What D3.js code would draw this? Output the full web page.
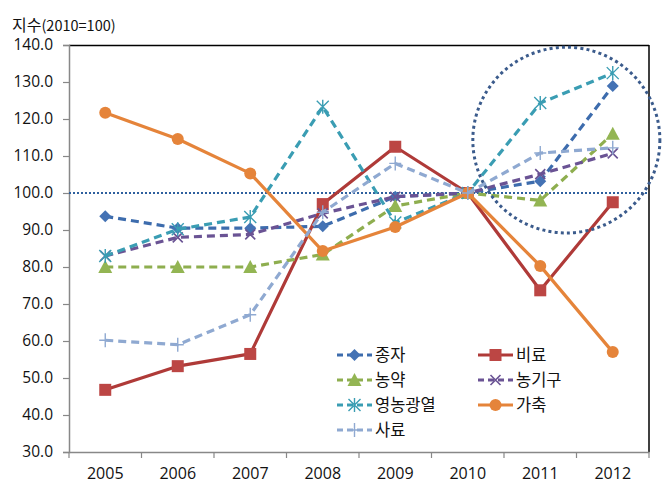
<!DOCTYPE html>
<html><head><meta charset="utf-8">
<script src="https://cdn.jsdelivr.net/npm/d3@7"></script>
<style>
html,body{margin:0;padding:0;background:#fff;}
svg{display:block;font-family:"Noto Sans CJK KR","Noto Sans",sans-serif;}
</style></head>
<body><svg id="chart" width="670" height="486"></svg>
<script>
const years = ["2005","2006","2007","2008","2009","2010","2011","2012"];
const yTicks = [30,40,50,60,70,80,90,100,110,120,130,140];
const seedVals = [93.7,90.5,90.5,91.0,99.0,100,103.2,128.9];
const fertVals = [46.8,53.2,56.5,97.0,112.5,100,73.7,97.5];
const pestVals = [80.0,80.0,80.0,83.4,96.5,100,98.0,116.0];
const machVals = [83.0,88.0,88.8,94.5,99.0,100,105.1,110.7];
const heatVals = [83.0,90.2,93.5,123.3,92.0,100,124.3,132.4];
const liveVals = [121.7,114.6,105.3,84.3,90.8,100,80.3,57.0];
const feedVals = [60.2,59.0,67.1,94.8,108.0,100,110.8,112.2];
const seriesNames = ["종자","비료","농약","농기구","영농광열","가축","사료"];
const refValue = 100;
// highlight ellipse (center in category/value space, radii in value units)
const ellipseCenter = {year:"2011", offset:0.86, value:114.3};
const ellipseRadii = {bands:1.29, value:25.1};

const series = [
  {name:seriesNames[0], vals:seedVals, line:"#3D6CAD", fill:"#4472B4", dash:"8,5", marker:"diamond"},
  {name:seriesNames[1], vals:fertVals, line:"#AF3A38", fill:"#BC4644", dash:null, marker:"square"},
  {name:seriesNames[2], vals:pestVals, line:"#8EAE4F", fill:"#93B553", dash:"8,5", marker:"triangle"},
  {name:seriesNames[3], vals:machVals, line:"#6A5394", fill:"#6A5394", dash:"8,5", marker:"x"},
  {name:seriesNames[4], vals:heatVals, line:"#3A9DB3", fill:"#3A9DB3", dash:"8,5", marker:"star"},
  {name:seriesNames[5], vals:liveVals, line:"#E5843A", fill:"#E5843A", dash:null, marker:"circle"},
  {name:seriesNames[6], vals:feedVals, line:"#8FA9D1", fill:"#8FA9D1", dash:"8,5", marker:"plus"}
];

const svg = d3.select("#chart");
const L=69, R=649, T=45, B=452;
const x = d3.scaleBand().domain(years).range([L,R]);
const y = d3.scaleLinear().domain([30,140]).range([B,T]);
const cx = d => x(d)+x.bandwidth()/2;

// Title
const title = svg.append("text").attr("x",12).attr("y",31).attr("fill","#111");
title.append("tspan").attr("font-size","16px").text("지수");
title.append("tspan").attr("font-size","14.5px").text("(2010=100)");

// Frame top & right
svg.append("line").attr("x1",L).attr("x2",R).attr("y1",T+0.5).attr("y2",T+0.5).attr("stroke","#000").attr("stroke-width",1.5);
svg.append("line").attr("x1",R).attr("x2",R).attr("y1",T).attr("y2",B).attr("stroke","#000").attr("stroke-width",1.5);

// Y axis
const yAxis = svg.append("g").attr("transform",`translate(${L},0)`)
  .call(d3.axisLeft(y).tickValues(yTicks).tickFormat(d3.format(".1f")).tickSize(6).tickPadding(10));
yAxis.select(".domain").attr("stroke","#888").attr("stroke-width",1.5);
yAxis.selectAll(".tick line").attr("stroke","#888").attr("stroke-width",1.2);
yAxis.selectAll("text").attr("font-size","15.5px").attr("fill","#111").attr("font-family","'Open Sans','Noto Sans',sans-serif");

// X axis
const xAxis = svg.append("g").attr("transform",`translate(0,${B})`)
  .call(d3.axisBottom(x).tickSize(0).tickPadding(16));
xAxis.select(".domain").attr("stroke","#888").attr("stroke-width",1.5);
xAxis.selectAll("text").attr("font-size","16px").attr("fill","#111").attr("font-family","'Open Sans','Noto Sans',sans-serif");
// ticks at band boundaries
const bounds = years.map(d=>x(d)).concat([R]);
svg.append("g").selectAll("line").data(bounds).join("line")
  .attr("x1",d=>d).attr("x2",d=>d).attr("y1",B).attr("y2",B+6)
  .attr("stroke","#888").attr("stroke-width",1.2);

// reference line at 100
svg.append("line").attr("x1",L).attr("x2",R).attr("y1",y(refValue)).attr("y2",y(refValue))
  .attr("stroke","#2E609E").attr("stroke-width",2).attr("stroke-dasharray","2,2");

// marker drawing
function drawMarker(g, type, color, fill){
  const s=6;
  if(type==="diamond"){
    g.append("path").attr("d",`M0,${-s}L${s},0L0,${s}L${-s},0Z`).attr("fill",fill);
  } else if(type==="square"){
    g.append("rect").attr("x",-6).attr("y",-6).attr("width",12).attr("height",12).attr("fill",fill);
  } else if(type==="triangle"){
    g.append("path").attr("d","M0,-7L7,6L-7,6Z").attr("fill",fill);
  } else if(type==="circle"){
    g.append("circle").attr("r",6).attr("fill",fill);
  } else if(type==="x"){
    g.append("path").attr("d","M-5,-5L5,5M-5,5L5,-5").attr("stroke",fill).attr("stroke-width",1.6);
  } else if(type==="star"){
    g.append("path").attr("d","M-6,-6L6,6M-6,6L6,-6M0,-7L0,7").attr("stroke",fill).attr("stroke-width",1.4);
  } else if(type==="plus"){
    g.append("path").attr("d","M-6,0L6,0M0,-7L0,7").attr("stroke",fill).attr("stroke-width",1.4);
  }
}

const line = d3.line().x((d,i)=>cx(years[i])).y(d=>y(d));
series.forEach(s=>{
  const g = svg.append("g");
  g.append("path").attr("d",line(s.vals)).attr("fill","none")
    .attr("stroke",s.line).attr("stroke-width",3.2)
    .attr("stroke-dasharray",s.dash).attr("stroke-linejoin","round");
  s.vals.forEach((v,i)=>{
    const m = g.append("g").attr("transform",`translate(${cx(years[i])},${y(v)})`);
    drawMarker(m,s.marker,s.line,s.fill);
  });
});

// highlight ellipse
const ecx = x(ellipseCenter.year)+x.bandwidth()*ellipseCenter.offset;
const ecy = y(ellipseCenter.value);
svg.append("ellipse").attr("cx",ecx).attr("cy",ecy)
  .attr("rx",x.bandwidth()*ellipseRadii.bands).attr("ry",y(0)-y(ellipseRadii.value))
  .attr("fill","none").attr("stroke","#3B5B8C").attr("stroke-width",3).attr("stroke-dasharray","3,3.2");

// legend (2 columns, row-major)
const legend = svg.append("g");
const colX=[337,478], rowY=[355,380,405,430];
series.forEach((s,i)=>{
  const gx = colX[i%2], gy = rowY[Math.floor(i/2)];
  const g = legend.append("g").attr("transform",`translate(${gx},${gy})`);
  g.append("line").attr("x1",0).attr("x2",35).attr("y1",0).attr("y2",0)
    .attr("stroke",s.line).attr("stroke-width",3.2).attr("stroke-dasharray",s.dash?"6,4":null);
  const m = g.append("g").attr("transform","translate(17.5,0)");
  drawMarker(m,s.marker,s.line,s.fill);
  g.append("text").attr("x",38).attr("y",6).attr("font-size","16.5px").attr("fill","#111").text(s.name);
});
</script>
</body></html>
